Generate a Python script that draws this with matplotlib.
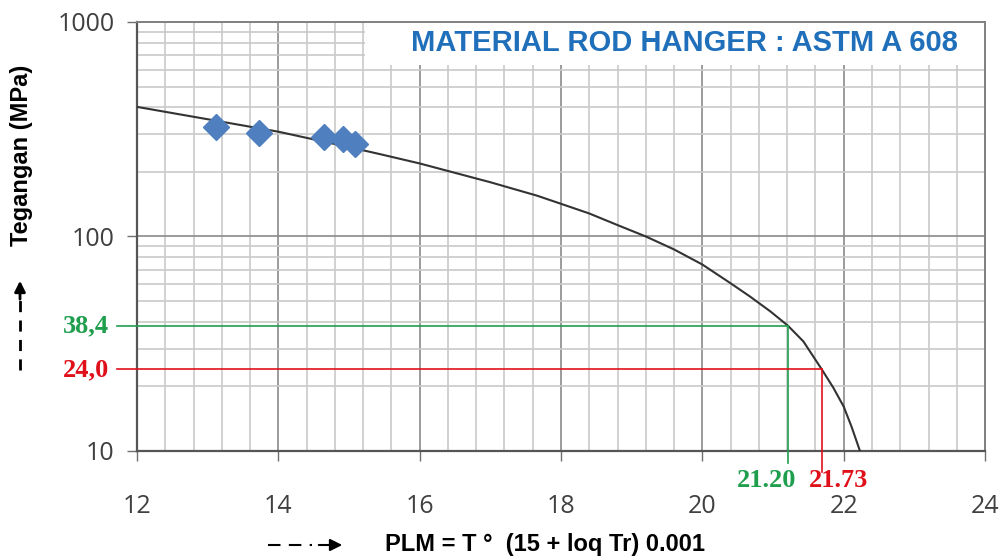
"""Grafik Larson-Miller: tegangan vs PLM untuk rod hanger ASTM A 608."""

import matplotlib
import matplotlib.pyplot as plt
from matplotlib.lines import Line2D
from matplotlib.patches import Rectangle
from matplotlib.ticker import FixedLocator, LogLocator, MultipleLocator, NullFormatter

matplotlib.use("Agg")

# ---------------------------------------------------------------------------
# data
# ---------------------------------------------------------------------------
curve_plm = [12.0, 13.0, 14.0, 15.0, 15.44, 16.0, 17.0, 17.66, 18.0, 18.4,
             18.8, 19.2, 19.6, 20.0, 20.4, 20.67, 20.96, 21.21, 21.43, 21.69,
             21.85, 22.0, 22.11, 22.23]
curve_stress = [402, 352, 308, 261, 242, 219, 179, 155, 142, 128,
                113, 100, 87, 74, 60.5, 52.6, 44.8, 38.4, 32.4, 24.0,
                19.8, 16.1, 13.0, 10.0]

point_plm = [13.12, 13.73, 14.64, 14.92, 15.08]
point_stress = [325, 305, 292, 284, 270]

# garis bantu: posisi di gambar dan nilai yang ditulis
green_plm, green_stress = 21.21, 38.4
red_plm, red_stress = 21.69, 24.0
green_labels = ("38,4", "21.20")
red_labels = ("24,0", "21.73")

x_ticks = [12, 14, 16, 18, 20, 22, 24]
y_ticks = [10, 100, 1000]
y_tick_labels = ["10", "100", "1000"]

TITLE = "MATERIAL ROD HANGER : ASTM A 608"

# warna
_CURVE_COLOR = "#333333"
_POINT_COLOR = "#4f7fbf"
_GREEN = "#1f9e4e"
_RED = "#e0101a"
_TITLE_COLOR = "#1f6fba"
_TICK_COLOR = "#404040"

fig = plt.figure(figsize=(10.03, 5.58), dpi=100)
ax = fig.add_axes([0.1366, 0.1918, 0.8455, 0.7688])

ax.set_yscale("log")
ax.set_xlim(12, 24)
ax.set_ylim(10, 1000)

# --- grid ---
ax.xaxis.set_major_locator(FixedLocator(x_ticks))
ax.xaxis.set_minor_locator(MultipleLocator(0.4))
ax.yaxis.set_major_locator(FixedLocator(y_ticks))
ax.yaxis.set_minor_locator(LogLocator(base=10, subs=range(2, 10)))
ax.yaxis.set_minor_formatter(NullFormatter())
ax.set_yticklabels(y_tick_labels)
ax.set_axisbelow(True)
ax.grid(which="major", color="#8a8a8a", linewidth=1.2)
ax.grid(which="minor", color="#cacaca", linewidth=1.2)

ax.tick_params(which="minor", length=0)
ax.tick_params(which="major", length=7, width=1.0, color="#707070",
               labelsize=18, labelcolor=_TICK_COLOR)
ax.tick_params(axis="y", pad=9)
ax.tick_params(axis="x", pad=24)
for lab in ax.get_xticklabels() + ax.get_yticklabels():
    lab.set_fontfamily("Open Sans")

for side in ["left", "bottom"]:
    ax.spines[side].set_color("#555555")
    ax.spines[side].set_linewidth(1.6)
for side in ["right", "top"]:
    ax.spines[side].set_color("#808080")
    ax.spines[side].set_linewidth(1.4)

# --- kotak judul ---
ax.add_patch(Rectangle((0.269, 0.9), 0.731, 0.1, transform=ax.transAxes,
                       facecolor="white", edgecolor="none", zorder=2))
ax.text(0.645, 0.95, TITLE, transform=ax.transAxes, ha="center", va="center",
        fontsize=21, fontweight="bold", color=_TITLE_COLOR,
        family="Liberation Sans", zorder=5)

# --- kurva & titik data ---
ax.plot(curve_plm, curve_stress, color=_CURVE_COLOR, linewidth=1.5,
        solid_joinstyle="round", zorder=3)
ax.plot(point_plm, point_stress, linestyle="none", marker="D", markersize=13,
        color=_POINT_COLOR, zorder=4)

# --- garis bantu hijau / merah ---
x_left = 11.72
ax.plot([x_left, green_plm], [green_stress, green_stress], color=_GREEN,
        linewidth=1.2, clip_on=False, zorder=3)
ax.plot([green_plm, green_plm], [green_stress, 8.8], color=_GREEN,
        linewidth=1.2, clip_on=False, zorder=3)
ax.plot([x_left, red_plm], [red_stress, red_stress], color=_RED,
        linewidth=1.2, clip_on=False, zorder=3)
ax.plot([red_plm, red_plm], [red_stress, 8.0], color=_RED,
        linewidth=1.2, clip_on=False, zorder=3)

serif = dict(family="Liberation Serif", fontweight="bold", fontsize=19)
ax.annotate(green_labels[0], (12, green_stress), xytext=(-20, 0),
            textcoords="offset points", ha="right", va="center",
            color=_GREEN, **serif)
ax.annotate(red_labels[0], (12, red_stress), xytext=(-20, 0),
            textcoords="offset points", ha="right", va="center",
            color=_RED, **serif)
ax.annotate(green_labels[1], (green_plm, 10), xytext=(-15, -21),
            textcoords="offset points", ha="center", va="center",
            color=_GREEN, **serif)
ax.annotate(red_labels[1], (red_plm, 10), xytext=(12, -21),
            textcoords="offset points", ha="center", va="center",
            color=_RED, **serif)

# --- label sumbu ---
fig.text(22 / 1003, 1 - 155 / 558, "Tegangan (MPa)", rotation=90,
         ha="center", va="center", fontsize=17, fontweight="bold",
         family="Liberation Sans")
fig.text(545 / 1003, 1 - 545 / 558, "PLM = T °  (15 + loq Tr) 0.001",
         ha="center", va="center", fontsize=17, fontweight="bold",
         family="Liberation Sans")

# panah putus-putus (y)
fig.add_artist(Line2D([20 / 1003, 20 / 1003], [1 - 370 / 558, 1 - 300 / 558],
                      color="black", linewidth=2, linestyle=(0, (4, 3))))
fig.add_artist(plt.Annotation("", xy=(20 / 1003, 1 - 278 / 558),
                              xytext=(20 / 1003, 1 - 302 / 558),
                              xycoords="figure fraction",
                              arrowprops=dict(arrowstyle="-|>", color="black",
                                              lw=2, mutation_scale=16)))
# panah putus-putus (x)
fig.add_artist(Line2D([268 / 1003, 312 / 1003], [1 - 545 / 558, 1 - 545 / 558],
                      color="black", linewidth=1.5, linestyle=(0, (6, 4))))
fig.add_artist(plt.Annotation("", xy=(345 / 1003, 1 - 545 / 558),
                              xytext=(316 / 1003, 1 - 545 / 558),
                              xycoords="figure fraction",
                              arrowprops=dict(arrowstyle="-|>", color="black",
                                              lw=1.5, mutation_scale=18)))

fig.savefig("out.png", dpi=100)
plt.close(fig)
